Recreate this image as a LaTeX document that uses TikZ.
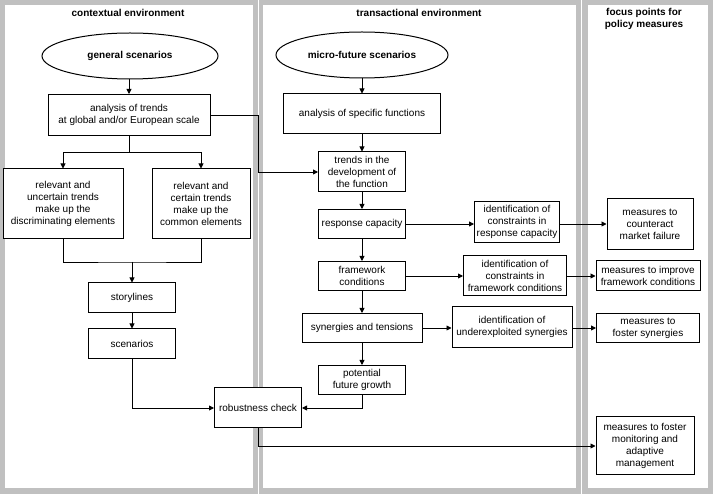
\documentclass[tikz,border=0pt]{standalone}
\usepackage{fontspec}
\setmainfont{Liberation Sans}
\usetikzlibrary{arrows.meta,shapes.geometric}
\definecolor{panelgray}{RGB}{192,192,192}
\begin{document}
\begin{tikzpicture}[x=1pt,y=-1pt,
  box/.style={draw,line width=1pt,fill=white,align=center,inner sep=0pt,font=\fontsize{10}{12}\selectfont},
  sz/.style n args={2}{minimum width=#1pt,minimum height=#2pt},
  oval/.style={ellipse,draw,line width=1pt,fill=white,inner sep=0pt,font=\bfseries\fontsize{10}{12}\selectfont},
  hdr/.style={align=center,font=\bfseries\fontsize{10}{12}\selectfont},
  conn/.style={line width=0.9pt},
  arr/.style={conn,-{Triangle[length=5pt,width=5pt]}},
  panel/.style={fill=panelgray},
  innerpanel/.style={fill=white}]
\useasboundingbox (0,0) rectangle (713,494);
\fill[white] (0,0) rectangle (713,494);
% panels
\fill[panel] (0,0) rectangle (257.5,494);
\fill[panel] (258.5,0) rectangle (581,494);
\fill[panel] (582,0) rectangle (713,494);
\fill[innerpanel] (5,5) rectangle (252.5,488);
\fill[innerpanel] (263,5) rectangle (576,488);
\fill[innerpanel] (588,5) rectangle (708,488);

% headers
\node[hdr] (h1) at (128,13) {contextual environment};
\node[hdr] (h2) at (419,13) {transactional environment};
\node[hdr] (h3) at (644,19) {focus points for\\policy measures};

% left column
\node[oval,sz={176}{46}] (gs) at (130,56) {general scenarios};
\node[box,sz={162}{41}] (at) at (129,115) {analysis of trends\\at global and/or European scale};
\node[box,sz={120}{70}] (ue) at (63,204) {relevant and\\uncertain trends\\make up the\\discriminating elements};
\node[box,sz={98}{70}] (ce) at (201,204) {relevant and\\certain trends\\make up the\\common elements};
\node[box,sz={87}{30}] (sl) at (132,298) {storylines};
\node[box,sz={87}{30}] (sc) at (132,344) {scenarios};
\node[box,sz={87}{40}] (rc) at (258,408) {robustness check};

% middle column
\node[oval,sz={172}{46}] (mf) at (362,55) {micro-future scenarios};
\node[box,sz={157}{40}] (asf) at (362,114) {analysis of specific functions};
\node[box,sz={87}{40}] (tdf) at (362,172) {trends in the\\development of\\the function};
\node[box,sz={87}{29}] (resp) at (362,224) {response capacity};
\node[box,sz={87}{29}] (fw) at (362,276) {framework\\conditions};
\node[box,sz={120}{29}] (syn) at (362,328) {synergies and tensions};
\node[box,sz={87}{29}] (pfg) at (362,380) {potential\\future growth};
\node[box,sz={85}{41}] (icr) at (517,222) {identification of\\constraints in\\response capacity};
\node[box,sz={103}{40}] (icf) at (515,276) {identification of\\constraints in\\framework conditions};
\node[box,sz={120}{41}] (ius) at (512,327) {identification of\\underexploited synergies};

% right column
\node[box,sz={86}{51}] (mcm) at (650,224) {measures to\\counteract\\market failure};
\node[box,sz={104}{30}] (mif) at (648,276) {measures to improve\\framework conditions};
\node[box,sz={103}{29}] (mfs) at (648,328) {measures to\\foster synergies};
\node[box,sz={98}{58}] (mfm) at (645,446) {measures to foster\\monitoring and\\adaptive\\management};

% junctions
\coordinate (j1) at (129,152);
\coordinate (j2) at (132,262);
\coordinate (j3) at (258,0);

% connectors left
\draw[arr] (at.north |- gs.south) -- (at.north);
\draw[conn] (at.south) -- (j1);
\draw[arr] (j1) -| (ue.north);
\draw[arr] (j1) -| (ce.north);
\draw[conn] (ue.south) |- (j2) -| (ce.south);
\draw[arr] (j2) -- (sl.north);
\draw[arr] (sl.south) -- (sc.north);
\draw[arr] (sc.south) |- (rc.west);
\draw[arr] (rc.south) |- (mfm.west);
\draw[arr] (at.east) -- (at.east -| j3) |- (tdf.west);

% connectors middle
\draw[arr] (mf.south) -- (asf.north);
\draw[arr] (asf.south) -- (tdf.north);
\draw[arr] (tdf.south) -- (resp.north);
\draw[arr] (resp.south) -- (fw.north);
\draw[arr] (fw.south) -- (syn.north);
\draw[arr] (syn.south) -- (pfg.north);
\draw[arr] (pfg.south) |- (rc.east);

% connectors right
\draw[arr] (resp.east) -- (resp.east -| icr.west);
\draw[arr] (icr.east |- mcm.west) -- (mcm.west);
\draw[arr] (fw.east) -- (fw.east -| icf.west);
\draw[arr] (icf.east |- mif.west) -- (mif.west);
\draw[arr] (syn.east) -- (syn.east -| ius.west);
\draw[arr] (ius.east |- mfs.west) -- (mfs.west);
\end{tikzpicture}
\end{document}
